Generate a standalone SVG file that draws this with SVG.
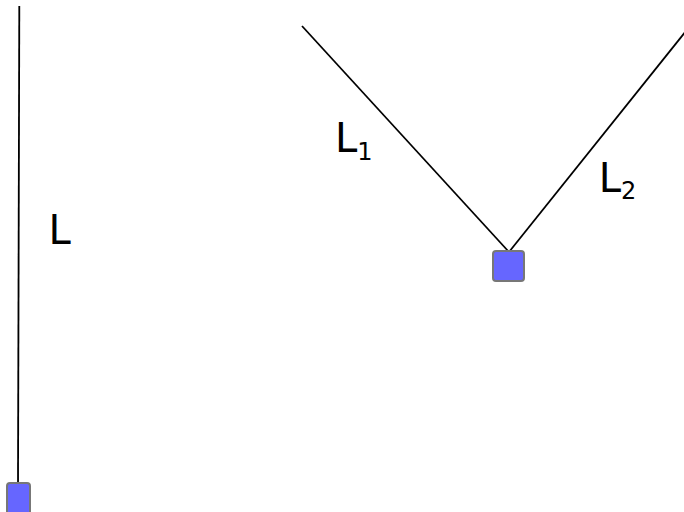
<svg xmlns="http://www.w3.org/2000/svg" width="684" height="512" viewBox="0 0 684 512">
<style>
.rope{stroke:#000;stroke-width:1.8;fill:none}
.mass{fill:#6666ff;stroke:#777;stroke-width:2}
.lbl{font-family:"DejaVu Sans",sans-serif;font-size:40px;fill:#000}
.sub{font-size:24px}
</style>
<rect width="684" height="512" fill="#fff"/>
<g id="connectors">
<line class="rope" x1="19.3" y1="6" x2="18" y2="483"/>
<line class="rope" x1="302" y1="26" x2="509" y2="252"/>
<line class="rope" x1="509" y1="252" x2="692" y2="23.5"/>
</g>
<g id="mass-left">
<rect class="mass" x="7" y="483" width="23" height="40" rx="3"/>
</g>
<g id="mass-right">
<rect class="mass" x="493" y="251" width="31" height="30" rx="3"/>
</g>
<g id="label-L">
<text class="lbl" x="48.4" y="244">L</text>
</g>
<g id="label-L1">
<text class="lbl" x="335" y="152.3">L<tspan class="sub" dy="8">1</tspan></text>
</g>
<g id="label-L2">
<text class="lbl" x="598.8" y="191.7">L<tspan class="sub" dy="7.6">2</tspan></text>
</g>
</svg>
